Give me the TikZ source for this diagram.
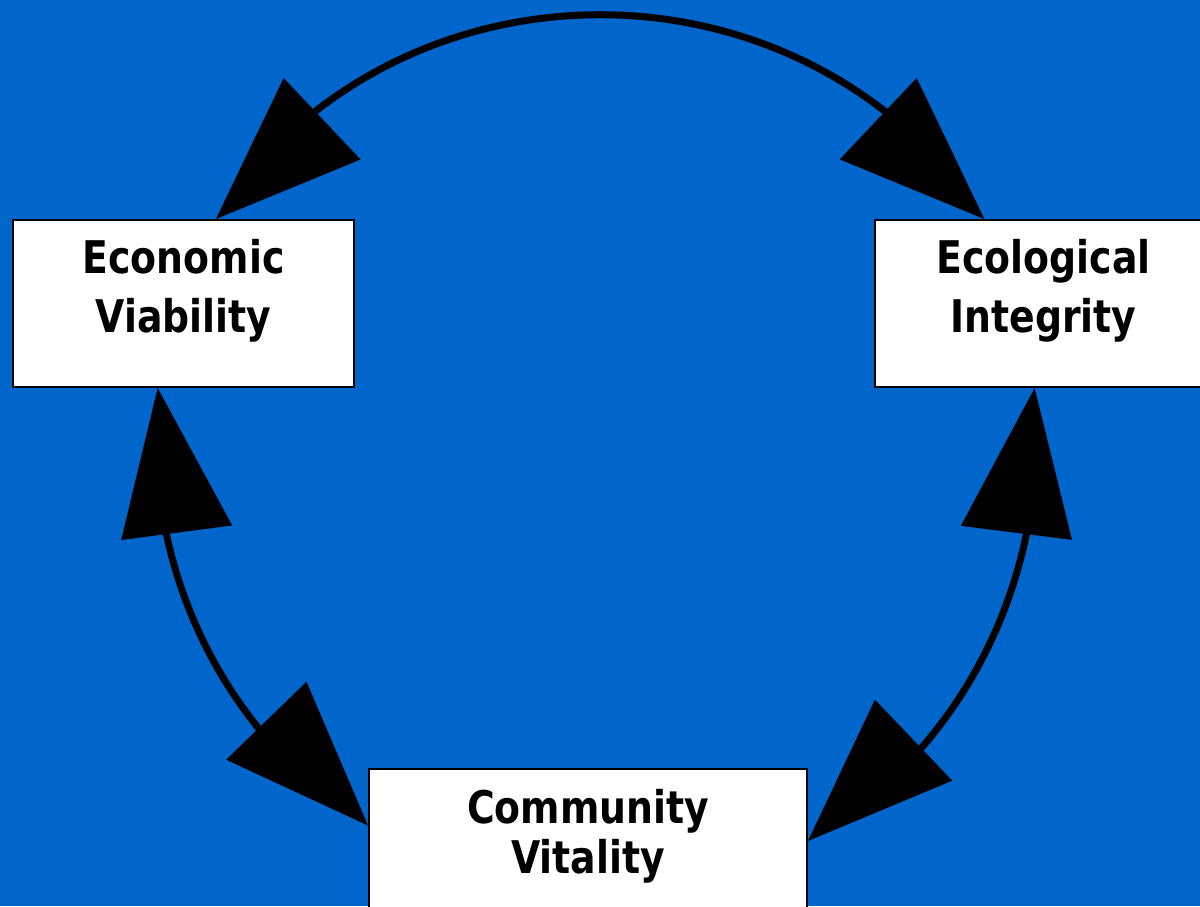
\documentclass[tikz,border=0pt]{standalone}
\usepackage{fontspec}
\setmainfont{DejaVu Sans}[FakeStretch=0.84]
\usetikzlibrary{arrows.meta,bending}
\definecolor{slideblue}{RGB}{0,102,204}

\begin{document}
\begin{tikzpicture}[x=1pt,y=1pt,
	box/.style={draw,line width=2pt,fill=white,inner sep=0pt,anchor=north,align=center,
		text height=112.7pt,text depth=54.3pt,font=\bfseries\fontsize{45}{59}\selectfont},
	link/.style={line width=7pt,<->},
	>={Triangle[length=146pt,width=112pt,line width=0pt,flex=1.5]}]
		\useasboundingbox (0,0) rectangle (1200,906);
		\fill[slideblue] (0,0) rectangle (1200,906);
		\node[box,minimum width=341pt] (econ) at (183.5,687) {Economic\\Viability};
		\node[box,minimum width=337pt] (ecol) at (1043.5,687) {Ecological\\Integrity};
		\node[box,minimum width=438pt,text height=104pt,text depth=63pt,font=\bfseries\fontsize{45}{50}\selectfont] (comm) at (588,138) {Community\\Vitality};
		\path
		(econ.69.3) edge[link,out=56.5,in=123.5,looseness=1.09] (ecol.125.9)
		(econ.253) edge[link,out=-95.3,in=147.9,looseness=0.92] (comm.173.6)
		(ecol.264.2) edge[link,out=-84.8,in=29.8,looseness=0.925] (comm.3.8)
		;
	\end{tikzpicture}
\end{document}
